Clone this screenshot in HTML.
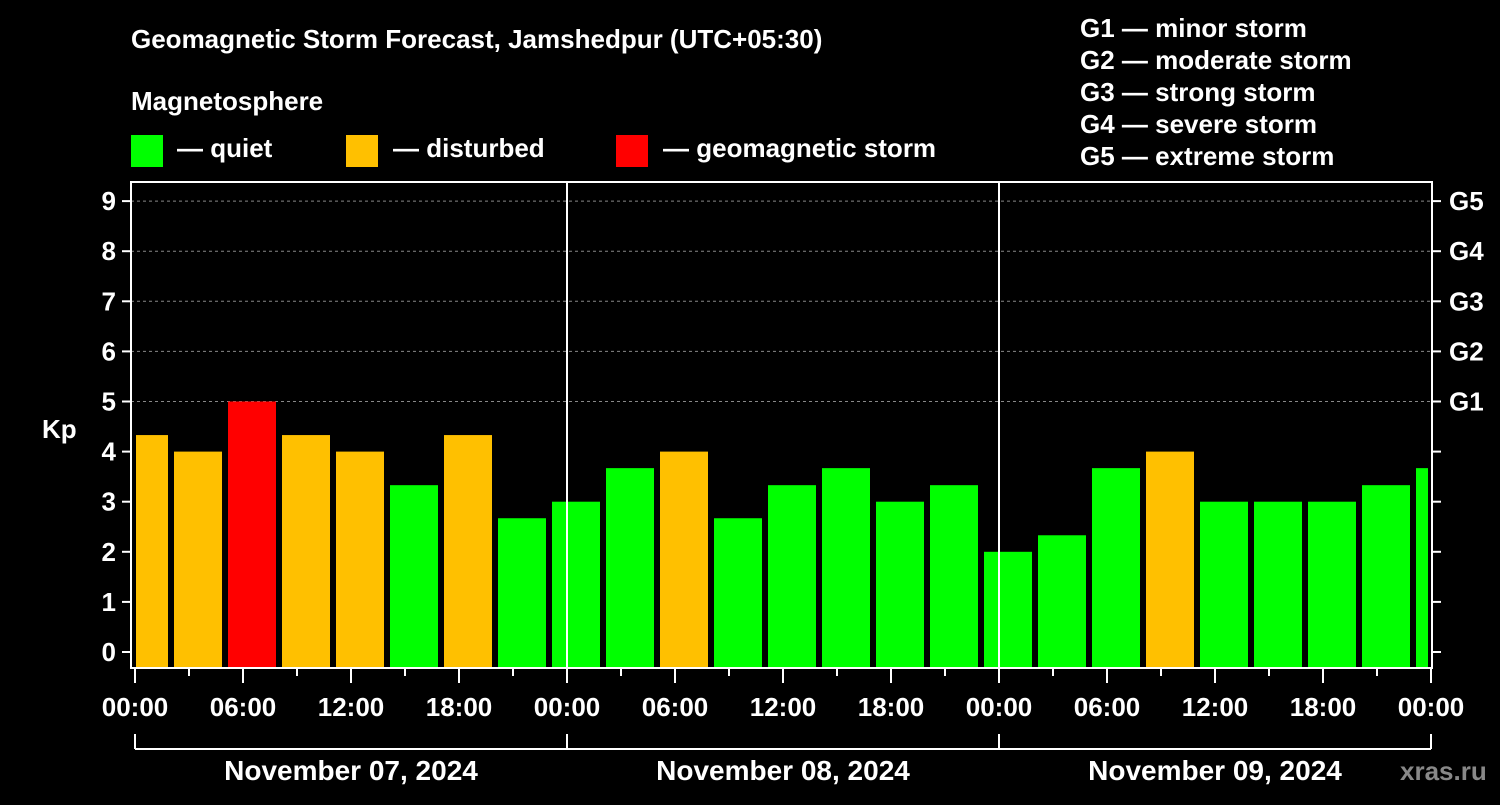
<!DOCTYPE html>
<html><head><meta charset="utf-8"><style>
body{margin:0;background:#000;width:1500px;height:800px;overflow:hidden}
svg text{font-family:"Liberation Sans",sans-serif;font-weight:bold;fill:#fff}
</style></head><body>
<svg id="c" width="1500" height="800" xmlns="http://www.w3.org/2000/svg">
<text x="131" y="48" font-size="26">Geomagnetic Storm Forecast, Jamshedpur (UTC+05:30)</text>
<text x="131" y="110" font-size="26">Magnetosphere</text>
<rect x="131" y="135" width="32" height="32" fill="#00ff00"/>
<text x="177" y="157" font-size="26">— quiet</text>
<rect x="346" y="135" width="32" height="32" fill="#ffc000"/>
<text x="393" y="157" font-size="26">— disturbed</text>
<rect x="616" y="135" width="32" height="32" fill="#ff0000"/>
<text x="663" y="157" font-size="26">— geomagnetic storm</text>
<g font-size="26">
<text x="1080" y="37">G1 — minor storm</text>
<text x="1080" y="69">G2 — moderate storm</text>
<text x="1080" y="101">G3 — strong storm</text>
<text x="1080" y="133">G4 — severe storm</text>
<text x="1080" y="165">G5 — extreme storm</text>
</g>
<text x="42" y="438" font-size="26">Kp</text>
<text x="1400" y="780" font-size="26" fill="#888" style="fill:#888">xras.ru</text>
<g id="plot"></g>
</svg>
<script>
const kpValues=[4.33,4,5,4.33,4,3.33,4.33,2.67,3,3.67,4,2.67,3.33,3.67,3,3.33,2,2.33,3.67,4,3,3,3,3.33,3.67];
const yTicks=[0,1,2,3,4,5,6,7,8,9];
const gLabels=["G1","G2","G3","G4","G5"];
const hourLabels=["00:00","06:00","12:00","18:00"];
const dayLabels=["November 07, 2024","November 08, 2024","November 09, 2024"];
const NS="http://www.w3.org/2000/svg";
const g=document.getElementById('plot');
const L=131,R=1432,T=182,B=668,X0=135,DAY=432;
const y=v=>652-v*50.1;
const xh=h=>X0+h*18;
function mk(t,a,p){const e=document.createElementNS(NS,t);for(const k in a)e.setAttribute(k,a[k]);(p||g).appendChild(e);return e;}
const clip=mk('clipPath',{id:'cp'});mk('rect',{x:136,y:T,width:1292,height:B-T},clip);
// grid
for(let v=5;v<=9;v++){const l=mk('line',{x1:L,x2:R,y1:y(v),y2:y(v),stroke:'#888','stroke-dasharray':'3,3','stroke-width':1});

}
// bars
const bg=mk('g',{'clip-path':'url(#cp)'});
kpValues.forEach((v,i)=>{const c=v>=5?'#ff0000':v>=4?'#ffc000':'#00ff00';
const r=mk('rect',{x:xh(3*i)-15,y:y(v),width:48,height:B-y(v),fill:c},bg);

});
// day separators
for(let d=1;d<3;d++){const l=mk('line',{x1:X0+d*DAY,x2:X0+d*DAY,y1:T,y2:B,stroke:'#fff','stroke-width':2});

}
// frame
const f=mk('rect',{x:L,y:T,width:R-L,height:B-T,fill:'none',stroke:'#fff','stroke-width':2});


// y ticks
yTicks.forEach(v=>{mk('line',{x1:122,x2:L,y1:y(v),y2:y(v),stroke:'#fff','stroke-width':2});
mk('line',{x1:R,x2:1441,y1:y(v),y2:y(v),stroke:'#fff','stroke-width':2});
const t=mk('text',{x:116,y:y(v)+9,'font-size':26,'text-anchor':'end'});t.textContent=v;

});
gLabels.forEach((s,i)=>{const t=mk('text',{x:1449,y:y(5+i)+9,'font-size':26});t.textContent=s;

});
// x ticks
for(let h=0;h<=72;h+=3){const major=h%6==0;
mk('line',{x1:xh(h),x2:xh(h),y1:B,y2:B+(major?15:8),stroke:'#fff','stroke-width':2});
if(major){const t=mk('text',{x:xh(h),y:716,'font-size':26,'text-anchor':'middle'});t.textContent=hourLabels[(h/6)%4];

}}
// day brackets
mk('line',{x1:X0,x2:X0+3*DAY,y1:749,y2:749,stroke:'#fff','stroke-width':2});
for(let d=0;d<=3;d++)mk('line',{x1:X0+d*DAY,x2:X0+d*DAY,y1:734,y2:749,stroke:'#fff','stroke-width':2});
dayLabels.forEach((s,d)=>{const t=mk('text',{x:X0+d*DAY+DAY/2,y:780,'font-size':28,'text-anchor':'middle'});t.textContent=s;

});
</script>
</body></html>
